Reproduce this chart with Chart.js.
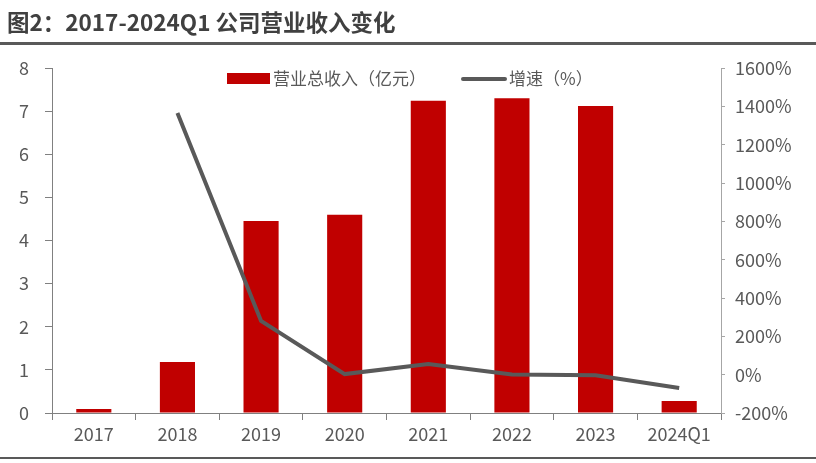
<!DOCTYPE html>
<html>
<head>
<meta charset="utf-8">
<script src="https://cdn.jsdelivr.net/npm/chart.js@4/dist/chart.umd.min.js"></script>
<style>
  body { margin: 0; background: #fff; font-family: "Noto Sans CJK SC", sans-serif; }
  #wrap { position: relative; width: 816px; height: 463px; }
  #title { position: absolute; left: 7px; top: 5px; font-size: 22.5px; font-weight: bold; color: #404040; }
  #topline { position: absolute; left: 0; top: 42px; width: 816px; height: 3px; background: #595959; }
  #botline { position: absolute; left: 0; top: 457px; width: 816px; height: 2px; background: #595959; }
  #legend { position: absolute; top: 65px; left: 0; font-size: 17px; color: #595959; }
  .lg { position: absolute; white-space: nowrap; }
  canvas { position: absolute; left: 0; top: 0; }
</style>
</head>
<body>
<div id="wrap">
  <canvas id="chart" width="816" height="463"></canvas>
  <div id="title">图2：2017-2024Q1 公司营业收入变化</div>
  <div id="topline"></div>
  <div id="botline"></div>
  <div id="legend">
    <div class="lg" style="left:227px;top:8px;width:43px;height:11px;background:#c00000"></div>
    <div class="lg" style="left:273px;top:0">营业总收入（亿元）</div>
    <div class="lg" style="left:461px;top:12px;width:46px;height:4px;border-radius:2px;background:#595959"></div>
    <div class="lg" style="left:509px;top:0">增速（%）</div>
  </div>
</div>
<script>
// 数据
const categories = ['2017', '2018', '2019', '2020', '2021', '2022', '2023', '2024Q1'];
const revenue = [0.09, 1.18, 4.45, 4.6, 7.24, 7.3, 7.12, 0.28];   // 亿元
const growth = [null, 1365, 280, 3, 56, 1, -3, -70];               // %

const tickFont = { family: '"Noto Sans CJK SC", sans-serif', size: 18 };

new Chart(document.getElementById('chart'), {
    type: 'bar',
    data: {
        labels: categories,
        datasets: [{
            type: 'line',
            label: '增速（%）',
            data: growth,
            yAxisID: 'y1',
            borderColor: '#595959',
            borderWidth: 4,
            pointRadius: 0,
            tension: 0,
            order: 0
        }, {
            label: '营业总收入（亿元）',
            data: revenue,
            yAxisID: 'y',
            backgroundColor: '#c00000',
            barPercentage: 0.42,
            categoryPercentage: 1,
            order: 1
        }]
    },
    options: {
        responsive: false,
        animation: false,
        layout: { padding: { top: 68, left: 0, right: 0, bottom: 0 } },
        plugins: {
            legend: { display: false },
            tooltip: { enabled: false }
        },
        scales: {
            x: {
                offset: true,
                grid: { display: true, drawOnChartArea: false, tickLength: 7, color: '#808080', offset: true },
                border: { color: '#808080', width: 1 },
                ticks: { color: '#595959', font: tickFont, padding: 3, maxRotation: 0 },
                afterFit: s => { s.height = 50; }
            },
            y: {
                position: 'left',
                min: 0, max: 8,
                ticks: { stepSize: 1, color: '#595959', font: tickFont, padding: 16 },
                grid: { drawOnChartArea: false, tickLength: 7, color: '#808080' },
                border: { color: '#808080', width: 1 },
                afterFit: s => { s.width = 52; }
            },
            y1: {
                position: 'right',
                min: -200, max: 1600,
                ticks: { stepSize: 200, color: '#595959', font: tickFont, padding: 10, callback: v => v + '%' },
                grid: { drawOnChartArea: false, tickLength: 4, color: '#a6a6a6' },
                border: { color: '#a6a6a6', width: 1 },
                afterFit: s => { s.width = 95; }
            }
        }
    }
});
</script>
</body>
</html>
